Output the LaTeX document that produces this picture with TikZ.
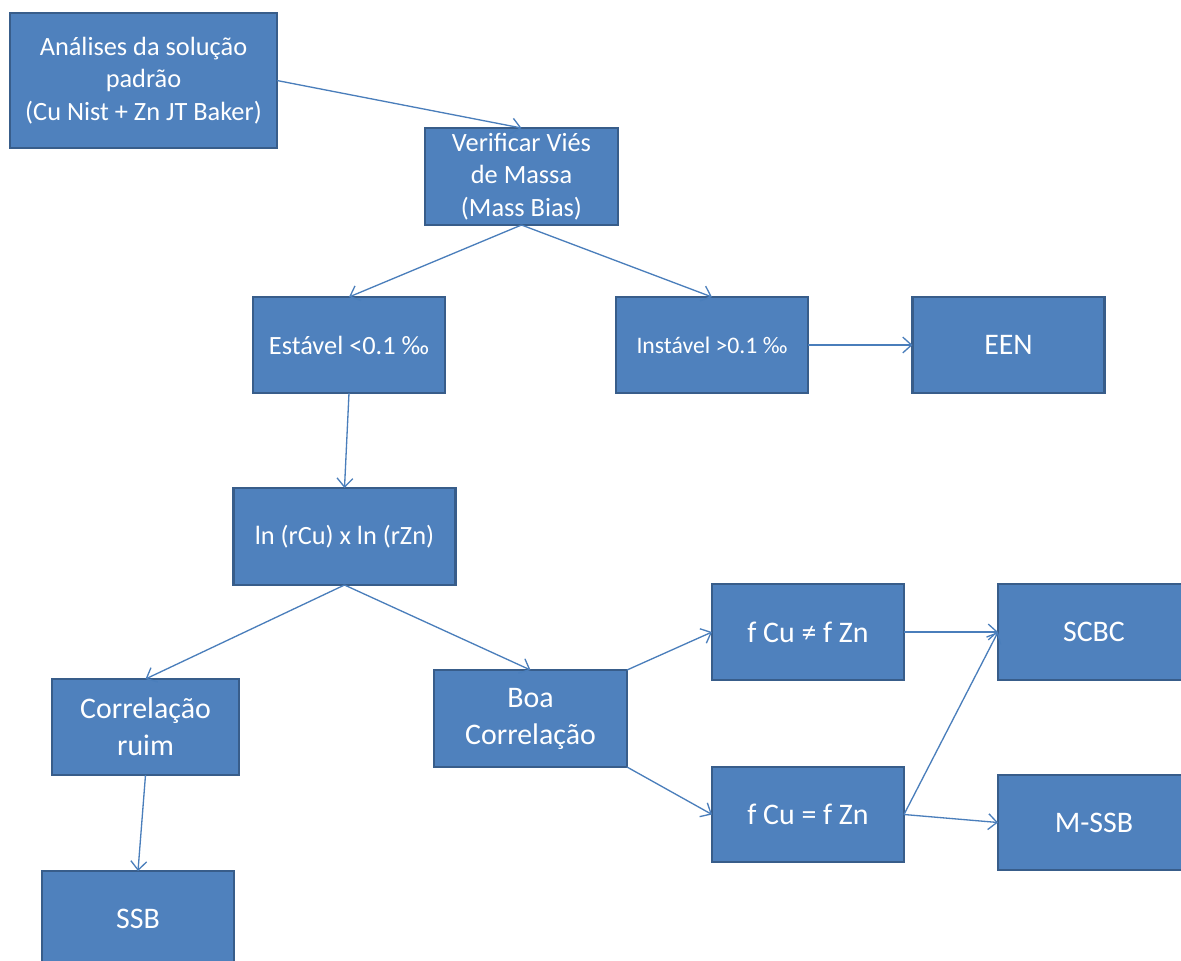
\documentclass[tikz,border=0pt]{standalone}
\usepackage{fontspec}
\setmainfont{Carlito}
\usetikzlibrary{arrows.meta}
\definecolor{boxfill}{HTML}{4F81BD}
\definecolor{boxline}{HTML}{385D8A}
\definecolor{arrowcol}{HTML}{4A7EBB}
\begin{document}
\begin{tikzpicture}[x=0.02cm,y=-0.02cm,
  box/.style={rectangle, fill=boxfill, draw=boxline, line width=1.4pt,
    text=white, align=center, inner sep=0pt, outer sep=0pt,
    minimum width=3.84cm, minimum height=1.92cm},
  fs/.style={font=\fontsize{15}{18.5}\selectfont},
  fl/.style={font=\fontsize{17}{21}\selectfont},
  conn/.style={draw=arrowcol, line width=0.75pt,
    -{Straight Barb[length=5pt,width=9pt,line width=0.75pt]}}]
\useasboundingbox (0,0) rectangle (1181,961);
\clip (0,0) rectangle (1181,961);
\fill[white] (0,0) rectangle (1181,961);
\node[box,fs,minimum width=5.34cm,minimum height=2.7cm] (A) at (143.5,80.5) {Análises da solução\\padrão\\(Cu Nist + Zn JT Baker)};
\node[box,fs,minimum width=3.86cm,minimum height=1.94cm] (V) at (521.5,176.5) {Verificar Viés\\de Massa\\(Mass Bias)};
\node[box,fs] (E) at (349,345) {Estável <0.1 ‰};
\node[box,font=\fontsize{13.5}{16}\selectfont] (I) at (712,345) {Instável >0.1 ‰};
\node[box,fl] (EEN) at (1008.5,345) {EEN};
\node[box,fs,minimum width=4.44cm,minimum height=1.94cm] (L) at (344.5,536.5) {ln (rCu) x ln (rZn)};
\node[box,fl,minimum width=3.74cm] (CR) at (145.5,727) {Correlação\\ruim};
\node[box,fl,minimum width=3.86cm,minimum height=1.94cm] (BC) at (530.5,718.5) {Boa\\Correlação};
\node[box,fl] (FNE) at (808,632) {f Cu ≠ f Zn};
\node[box,fl,minimum height=1.9cm] (FEQ) at (808,814.5) {f Cu = f Zn};
\node[box,fl] (SCBC) at (1094,632) {SCBC};
\node[box,fl,minimum height=1.9cm] (MSSB) at (1094,822.5) {M-SSB};
\node[box,fl] (SSB) at (138,919) {SSB};
\draw[conn] (A.east) -- (V.north);
\draw[conn] (V.south) -- (E.north);
\draw[conn] (V.south) -- (I.north);
\draw[conn] (I.east) -- (EEN.west);
\draw[conn] (E.south) -- (L.north);
\draw[conn] (L.south) -- (CR.north);
\draw[conn] (L.south) -- (BC.north);
\draw[conn] (BC.north east) -- (FNE.west);
\draw[conn] (BC.south east) -- (FEQ.west);
\draw[conn] (FNE.east) -- (SCBC.west);
\draw[conn] (FEQ.east) -- (SCBC.west);
\draw[conn] (FEQ.east) -- (MSSB.west);
\draw[conn] (CR.south) -- (SSB.north);
\end{tikzpicture}
\end{document}
